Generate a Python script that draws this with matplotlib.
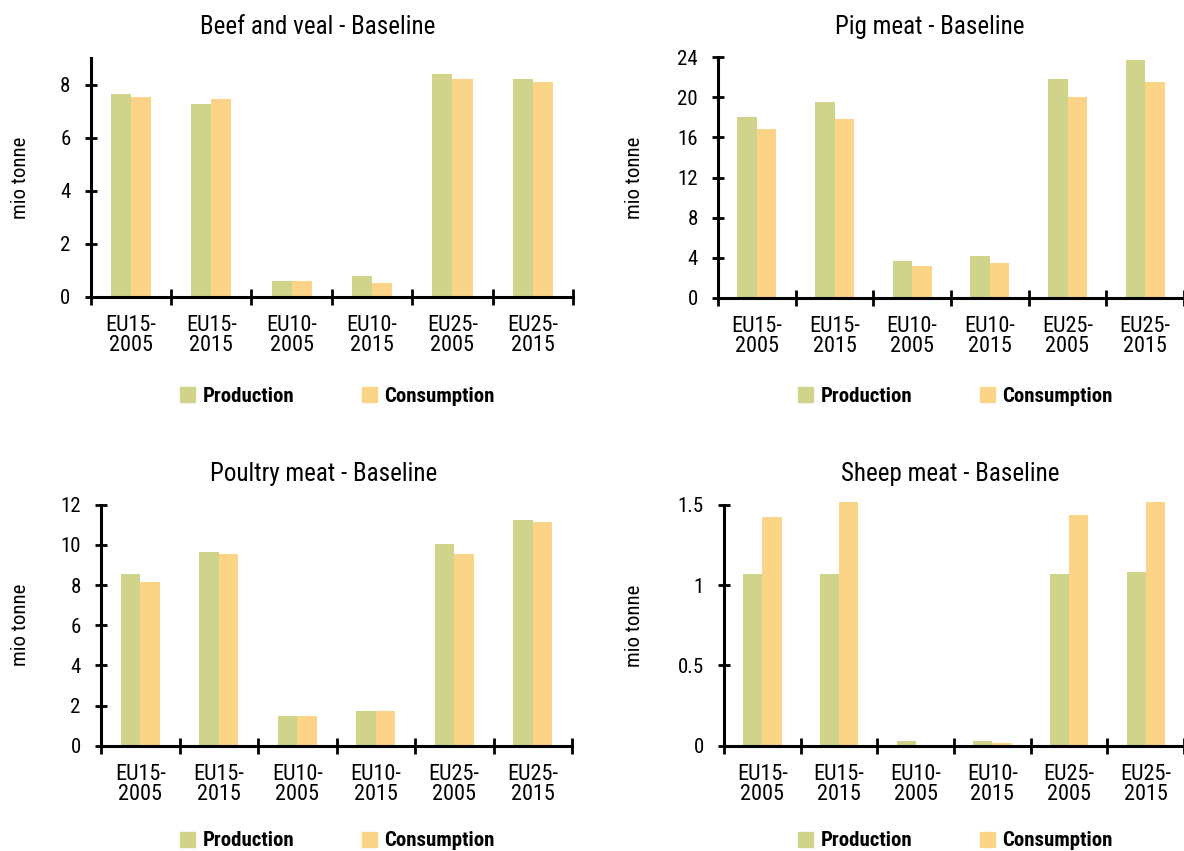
import numpy as np
import matplotlib
matplotlib.use("Agg")
from matplotlib import pyplot as plt
from matplotlib.patches import Patch

plt.rcParams["font.family"] = ["Roboto Condensed", "Liberation Sans Narrow", "Liberation Sans", "DejaVu Sans"]

categories = ["EU15-\n2005", "EU15-\n2015", "EU10-\n2005", "EU10-\n2015", "EU25-\n2005", "EU25-\n2015"]

beef_prod = [7.64, 7.27, 0.61, 0.80, 8.40, 8.20]
beef_cons = [7.53, 7.45, 0.61, 0.54, 8.20, 8.09]
pig_prod = [18.0, 19.5, 3.7, 4.2, 21.8, 23.7]
pig_cons = [16.8, 17.8, 3.2, 3.5, 20.0, 21.5]
poultry_prod = [8.55, 9.65, 1.48, 1.73, 10.04, 11.24]
poultry_cons = [8.15, 9.55, 1.48, 1.73, 9.55, 11.14]
sheep_prod = [1.07, 1.07, 0.03, 0.03, 1.07, 1.08]
sheep_cons = [1.425, 1.52, 0.0, 0.015, 1.44, 1.52]

GREEN = "#d0d38a"
ORANGE = "#fcd488"
W, H = 1184, 851

# (title, prod, cons, yticks, ytick labels, ymax, axes box in px: left, right, bottom, top,
#  title x, title y, ylabel x, legend x, legend y)
panels = [
    ("Beef and veal - Baseline", beef_prod, beef_cons, [0, 2, 4, 6, 8], ["0", "2", "4", "6", "8"], 9,
     (90.7, 573, 297, 58), 318, 27, 20, 180, 396),
    ("Pig meat - Baseline", pig_prod, pig_cons, [0, 4, 8, 12, 16, 20, 24],
     ["0", "4", "8", "12", "16", "20", "24"], 24,
     (718, 1184, 297.7, 57.3), 930, 27, 634, 798, 396),
    ("Poultry meat - Baseline", poultry_prod, poultry_cons, [0, 2, 4, 6, 8, 10, 12],
     ["0", "2", "4", "6", "8", "10", "12"], 12,
     (101, 572, 745.7, 504.7), 324, 474, 20, 180, 841),
    ("Sheep meat - Baseline", sheep_prod, sheep_cons, [0, 0.5, 1, 1.5], ["0", "0.5", "1", "1.5"], 1.5,
     (724, 1184, 745.7, 505), 950, 474, 634, 798, 841),
]

fig = plt.figure(figsize=(W / 100, H / 100), dpi=100)

for title, prod, cons, yt, ytl, ymax, box, tx, ty, ylx, lx, ly in panels:
    left, right, bottom, top = box
    ax = fig.add_axes([left / W, 1 - bottom / H, (right - left) / W, (bottom - top) / H])
    x = np.arange(len(categories))
    ax.bar(x - 0.125, prod, width=0.25, color=GREEN, clip_on=False, zorder=2)
    ax.bar(x + 0.125, cons, width=0.25, color=ORANGE, clip_on=False, zorder=2)
    ax.set_xlim(-0.5, len(categories) - 0.5)
    ax.set_ylim(0, ymax)

    for s in ["top", "right"]:
        ax.spines[s].set_visible(False)
    for s in ["left", "bottom"]:
        ax.spines[s].set_linewidth(2.2)
        ax.spines[s].set_zorder(3)

    ax.set_yticks(yt)
    ax.set_yticklabels(ytl, fontsize=15)
    ax.tick_params(axis="y", direction="inout", length=9, width=2, pad=10)
    ax.set_xticks(x)
    ax.set_xticklabels(categories, fontsize=16, linespacing=0.95)
    ax.tick_params(axis="x", which="major", length=0, pad=13)
    ax.set_xticks(np.arange(-0.5, len(categories)), minor=True)
    ax.tick_params(axis="x", which="minor", direction="inout", length=12, width=2)

    fig.text(ylx / W, 1 - (top + bottom) / 2 / H, "mio tonne", rotation=90,
             ha="center", va="center", fontsize=15)
    fig.text(tx / W, 1 - ty / H, title, ha="center", va="center", fontsize=18)

    # one legend per entry so each square sits where it does in the reference
    for color, label, off in [(GREEN, "Production", 0), (ORANGE, "Consumption", 182)]:
        fig.legend([Patch(color=color)], [label], loc="center left",
                   bbox_to_anchor=((lx + off) / W, 1 - ly / H), frameon=False,
                   prop={"weight": "bold", "size": 15}, handlelength=0.72, handleheight=0.72,
                   handletextpad=0.35, borderpad=0, borderaxespad=0)

fig.savefig("out.png", dpi=100)
